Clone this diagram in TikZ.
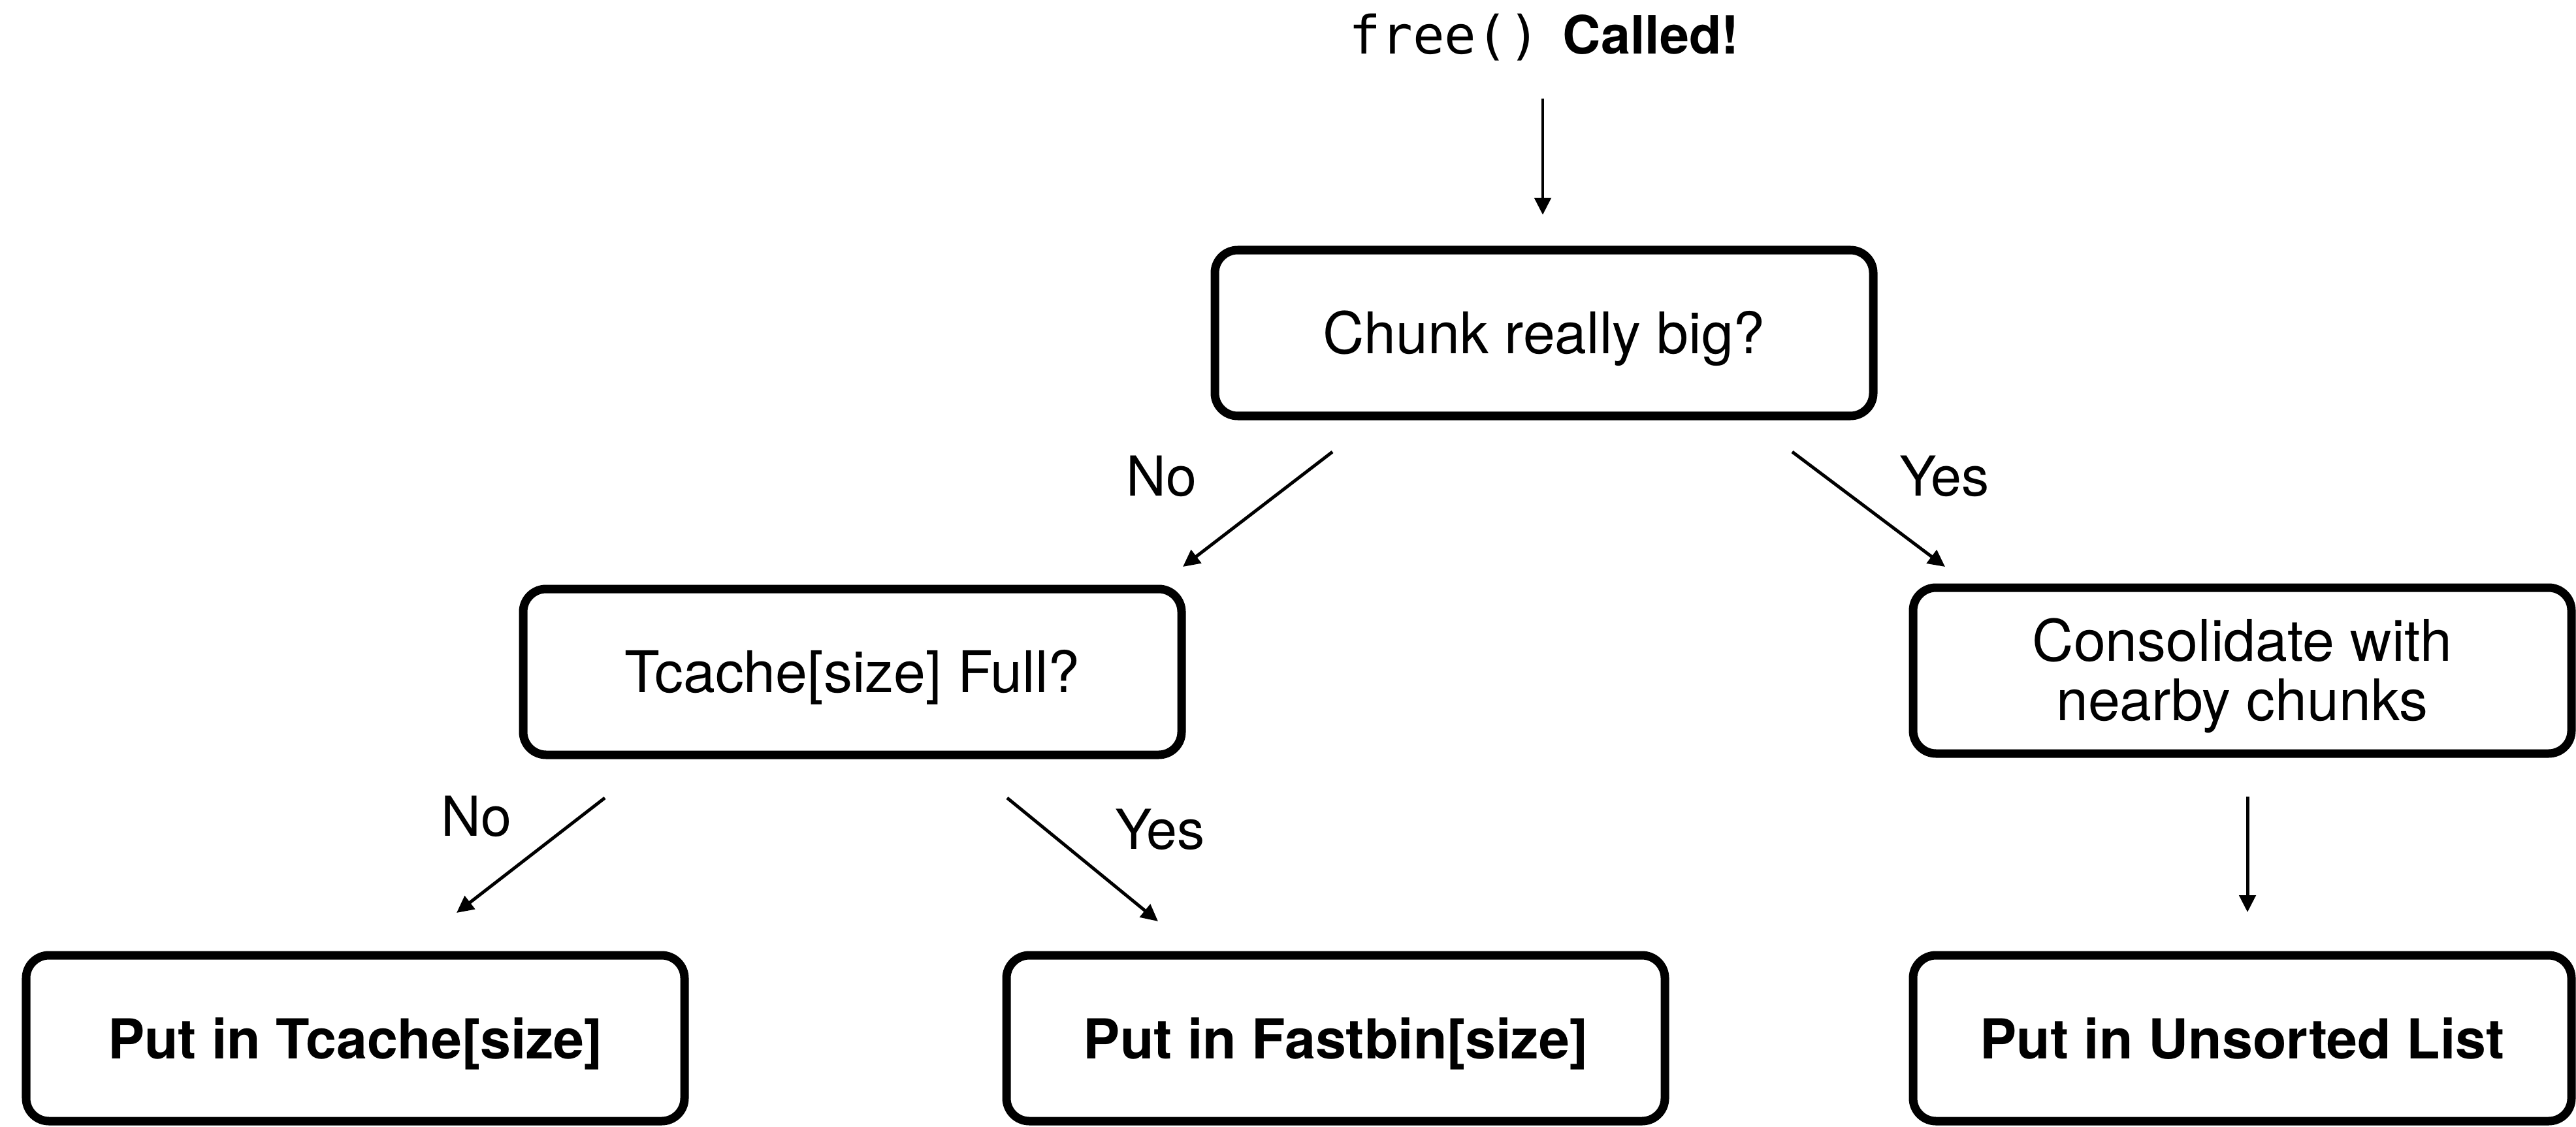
\documentclass[tikz,border=0pt]{standalone}
\usepackage{fontspec}
\setmainfont{TeX Gyre Heros}
\setmonofont{DejaVu Sans Mono}
\usetikzlibrary{arrows.meta}

\begin{document}
\begin{tikzpicture}[
  box/.style={draw, line width=3.7pt, rounded corners=0.35cm,
    minimum width=10.08cm, minimum height=2.54cm, inner sep=0pt,
    align=center, font=\fontsize{25}{26}\selectfont},
  oneline/.style={text height=0.62cm, text depth=0cm},
  boldbox/.style={box, oneline, font=\fontsize{24}{26}\selectfont\bfseries},
  arr/.style={-{Triangle[length=0.26cm,width=0.25cm]}, line width=1.4pt},
  lbl/.style={font=\fontsize{24}{29}\selectfont, inner sep=0pt},
]
\useasboundingbox (0,0) rectangle (39.44,17.25);

% title
\node[anchor=base, inner sep=0pt] (title) at (23.64,16.42)
  {\fontsize{23}{28}\selectfont\texttt{free()}\hspace{10pt}\textbf{Called!}};

% decision and action boxes
\node[box, oneline] (chunk) at (23.64,12.15) {Chunk really big?};
\node[box, oneline] (tcfull) at (13.05,6.96) {Tcache[size] Full?};
\node[box] (consol) at (34.33,6.98)
  {\rule{0pt}{23pt}Consolidate with\\nearby chunks};
\node[boldbox] (puttc) at (5.44,1.35) {Put in Tcache[size]};
\node[boldbox] (putfast) at (20.45,1.35) {Put in Fastbin[size]};
\node[boldbox] (putuns) at (34.33,1.35) {Put in Unsorted List};

% connector end points
\coordinate (a0) at (23.62,15.74);
\coordinate (a1) at (23.62,13.96);
\coordinate (n0) at (20.40,10.33);
\coordinate (n1) at (18.11,8.57);
\coordinate (y0) at (27.44,10.33);
\coordinate (y1) at (29.78,8.57);
\coordinate (tn0) at (9.26,5.03);
\coordinate (tn1) at (6.99,3.27);
\coordinate (ty0) at (15.42,5.03);
\coordinate (ty1) at (17.73,3.14);
\coordinate (c0) at (34.41,5.05);
\coordinate (c1) at (34.41,3.28);

\draw[arr] (a0) -- (a1);
\draw[arr] (n0) -- (n1);
\draw[arr] (y0) -- (y1);
\draw[arr] (tn0) -- (tn1);
\draw[arr] (ty0) -- (ty1);
\draw[arr] (c0) -- (c1);

% branch labels
\node[lbl] (lno1) at (17.78,9.96) {No};
\node[lbl] (lyes1) at (29.77,9.96) {Yes};
\node[lbl] (lno2) at (7.29,4.75) {No};
\node[lbl] (lyes2) at (17.76,4.55) {Yes};
\end{tikzpicture}
\end{document}
